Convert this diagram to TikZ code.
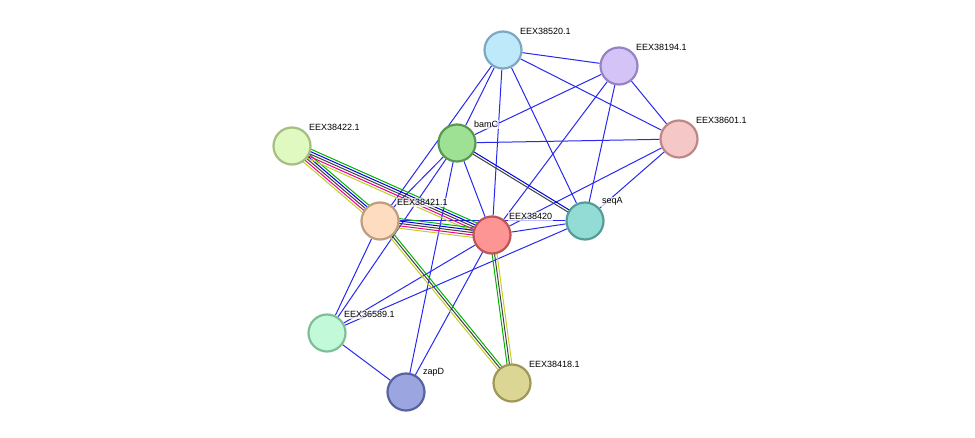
\documentclass[tikz,border=0pt]{standalone}
\usepackage{fontspec}
\setmainfont{Liberation Sans}
\usetikzlibrary{calc,backgrounds}
\newcommand{\multiedge}[3]{% from, to, list of offset/colour
  \foreach \o/\c in {#3}{\draw[line width=1pt,draw=\c] ($(#1)!\o pt!90:(#2)$) -- ($(#2)!\o pt!-90:(#1)$);}}
\begin{document}
\begin{tikzpicture}[x=1pt,y=-1pt,
  prot/.style={circle,minimum size=37pt,inner sep=0pt,line width=2.2pt},
  lbl/.style={font=\fontsize{9}{10}\selectfont,anchor=south west,inner sep=1pt,fill=white,fill opacity=0.7,text opacity=1},
  e/.style={draw={rgb,255:red,40;green,40;blue,240},line width=1pt}]
\colorlet{sy}{yellow!80!green!90!black}
\colorlet{sm}{magenta}
\colorlet{sk}{black!75}
\colorlet{sb}{blue!85!black}
\colorlet{sg}{green!70!black}
\useasboundingbox (0,0) rectangle (975,438);
\node[prot,fill={rgb,255:red,190;green,233;blue,251},draw={rgb,255:red,125;green,168;blue,192}] (n520) at (503,50) {};
\node[prot,fill={rgb,255:red,212;green,195;blue,247},draw={rgb,255:red,150;green,130;blue,196}] (n194) at (619,66) {};
\node[prot,fill={rgb,255:red,246;green,199;blue,199},draw={rgb,255:red,190;green,135;blue,135}] (n601) at (679,139) {};
\node[prot,fill={rgb,255:red,158;green,224;blue,148},draw={rgb,255:red,88;green,152;blue,80}] (bamC) at (457,143) {};
\node[prot,fill={rgb,255:red,224;green,249;blue,192},draw={rgb,255:red,165;green,190;blue,130}] (n422) at (292,146) {};
\node[prot,fill={rgb,255:red,253;green,220;blue,191},draw={rgb,255:red,190;green,158;blue,125}] (n421) at (380,221) {};
\node[prot,fill={rgb,255:red,254;green,149;blue,149},draw={rgb,255:red,190;green,85;blue,85}] (n420) at (492,235) {};
\node[prot,fill={rgb,255:red,147;green,220;blue,213},draw={rgb,255:red,85;green,155;blue,150}] (seqA) at (585,221) {};
\node[prot,fill={rgb,255:red,194;green,249;blue,217},draw={rgb,255:red,128;green,190;blue,152}] (n589) at (327,333) {};
\node[prot,fill={rgb,255:red,155;green,165;blue,223},draw={rgb,255:red,88;green,98;blue,158}] (zapD) at (406,392) {};
\node[prot,fill={rgb,255:red,219;green,214;blue,147},draw={rgb,255:red,158;green,152;blue,88}] (n418) at (512,383) {};
\begin{scope}[on background layer]
\foreach \a/\b in {n520/n194,n520/n601,n520/seqA,n520/n420,n520/bamC,n520/n421,
  n194/bamC,n194/n420,n194/seqA,n194/n601,
  n601/bamC,n601/seqA,n601/n420,
  bamC/n420,bamC/n421,bamC/zapD,bamC/n589,
  n421/n589,n421/seqA,n420/n589,n420/zapD,n420/seqA,seqA/n589,n589/zapD}
  {\draw[e] (\a) -- (\b);}
\multiedge{bamC}{seqA}{-1.2/sk,1.2/sb}
\multiedge{n422}{n421}{-4.8/sy,-2.4/sm,0/sk,2.4/sb,4.8/sg}
\multiedge{n422}{n420}{-4.8/sy,-2.4/sm,0/sk,2.4/sb,4.8/sg}
\multiedge{n421}{n420}{-4.8/sy,-2.4/sm,0/sk,2.4/sb,4.8/sg}
\multiedge{n421}{n418}{-2.4/sy,0/sk,2.4/sg}
\multiedge{n420}{n418}{-2.4/sg,0/sk,2.4/sy}
\end{scope}
\node[lbl] at (519,36) {EEX38520.1};
\node[lbl] at (635,52) {EEX38194.1};
\node[lbl] at (695,125) {EEX38601.1};
\node[lbl] at (473,129) {bamC};
\node[lbl] at (308,132) {EEX38422.1};
\node[lbl] at (396,207) {EEX38421.1};
\node[lbl] at (508,221) {EEX38420};
\node[lbl] at (601,207) {seqA};
\node[lbl] at (343,319) {EEX36589.1};
\node[lbl] at (422,378) {zapD};
\node[lbl] at (528,369) {EEX38418.1};
\end{tikzpicture}
\end{document}
